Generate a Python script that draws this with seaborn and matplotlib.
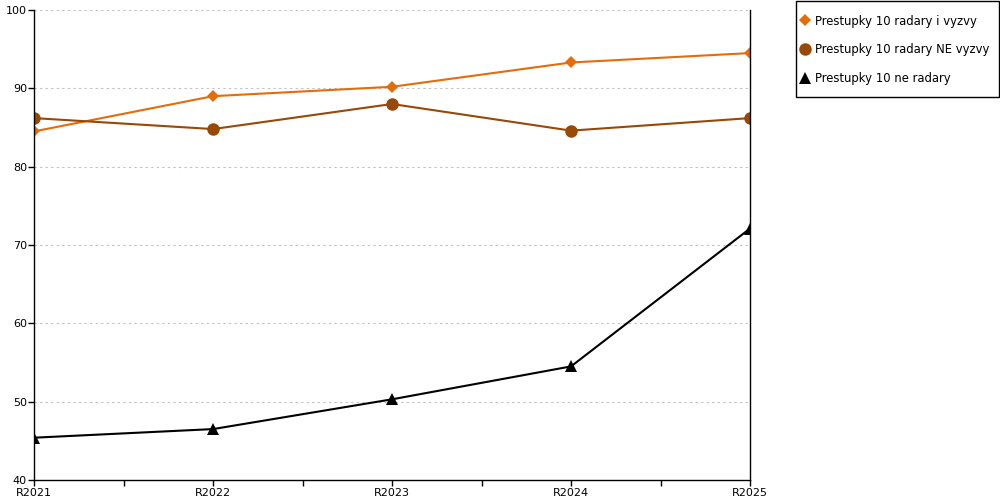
import matplotlib
matplotlib.use("Agg")
import matplotlib.pyplot as plt
import seaborn as sns
import pandas as pd
import numpy as np
from matplotlib.lines import Line2D
from matplotlib.patches import Rectangle

years = ["R2021", "R2022", "R2023", "R2024", "R2025"]
s1_name = "Prestupky 10 radary i vyzvy"
s2_name = "Prestupky 10 radary NE vyzvy"
s3_name = "Prestupky 10 ne radary"
s1 = [84.5, 89.0, 90.2, 93.3, 94.5]
s2 = [86.2, 84.8, 88.0, 84.6, 86.2]
s3 = [45.4, 46.5, 50.3, 54.5, 72.1]

df = pd.DataFrame({
    "year": years * 3,
    "value": s1 + s2 + s3,
    "series": [s1_name] * 5 + [s2_name] * 5 + [s3_name] * 5,
})

sns.set_style("white")
plt.rcParams['font.family'] = ['DejaVu Sans']
plt.rcParams['text.color'] = 'black'

fig = plt.figure(figsize=(10, 5), dpi=100)
ax = fig.add_axes([0.034, 0.04, 0.716, 0.94])

palette = {s1_name: "#E46C0A", s2_name: "#984807", s3_name: "#000000"}
markers = {s1_name: "D", s2_name: "o", s3_name: "^"}
sizes = {s1_name: 6.5, s2_name: 9, s3_name: 8.5}

sns.lineplot(data=df, x="year", y="value", hue="series", style="series",
             palette=palette, markers=markers, dashes=False, linewidth=1.5,
             markersize=8, markeredgewidth=0, ax=ax, sort=False, legend=False)

for line, name in zip(ax.lines, [s1_name, s2_name, s3_name]):
    line.set_markersize(sizes[name])

ax.set_xlim(0, 4)
ax.set_ylim(40, 100)
ax.set_yticks([40, 50, 60, 70, 80, 90, 100])
ax.set_xticks(range(5))
ax.set_xticklabels(years)
ax.set_xticks([0.5, 1.5, 2.5, 3.5], minor=True)
ax.set_xlabel("")
ax.set_ylabel("")
for y in [50, 60, 70, 80, 90, 100]:
    ax.axhline(y, color="#c0c0c0", linestyle=(0, (2, 3)), linewidth=0.8, zorder=0)

ax.spines["top"].set_visible(False)
for side in ["left", "bottom", "right"]:
    ax.spines[side].set_visible(True)
    ax.spines[side].set_color("black")
    ax.spines[side].set_linewidth(1.0)

ax.tick_params(axis="both", which="both", direction="out", color="black",
               labelcolor="black", labelsize=8, length=4, width=1,
               bottom=True, left=True)
ax.tick_params(axis="x", which="major", pad=2)
ax.tick_params(axis="y", which="major", pad=1)

leg_sizes = {s1_name: 6.5, s2_name: 9, s3_name: 8.5}
handles = [Line2D([], [], linestyle="none", marker=markers[n], color=palette[n],
                  markersize=leg_sizes[n], markeredgewidth=0)
           for n in [s1_name, s2_name, s3_name]]
leg = fig.legend(handles, [s1_name, s2_name, s3_name], loc="upper left",
                 bbox_to_anchor=(0.800, 0.971), frameon=False,
                 fontsize=8.4, handlelength=0.8,
                 handletextpad=0.5, labelspacing=1.35, borderpad=0.0,
                 borderaxespad=0)
for t in leg.get_texts():
    t.set_color("black")

fig.patches.append(Rectangle((0.7955, 0.806), 0.2035, 0.192,
                             transform=fig.transFigure, fill=False,
                             edgecolor="black", linewidth=1.0))

fig.savefig("out.png", dpi=100)
